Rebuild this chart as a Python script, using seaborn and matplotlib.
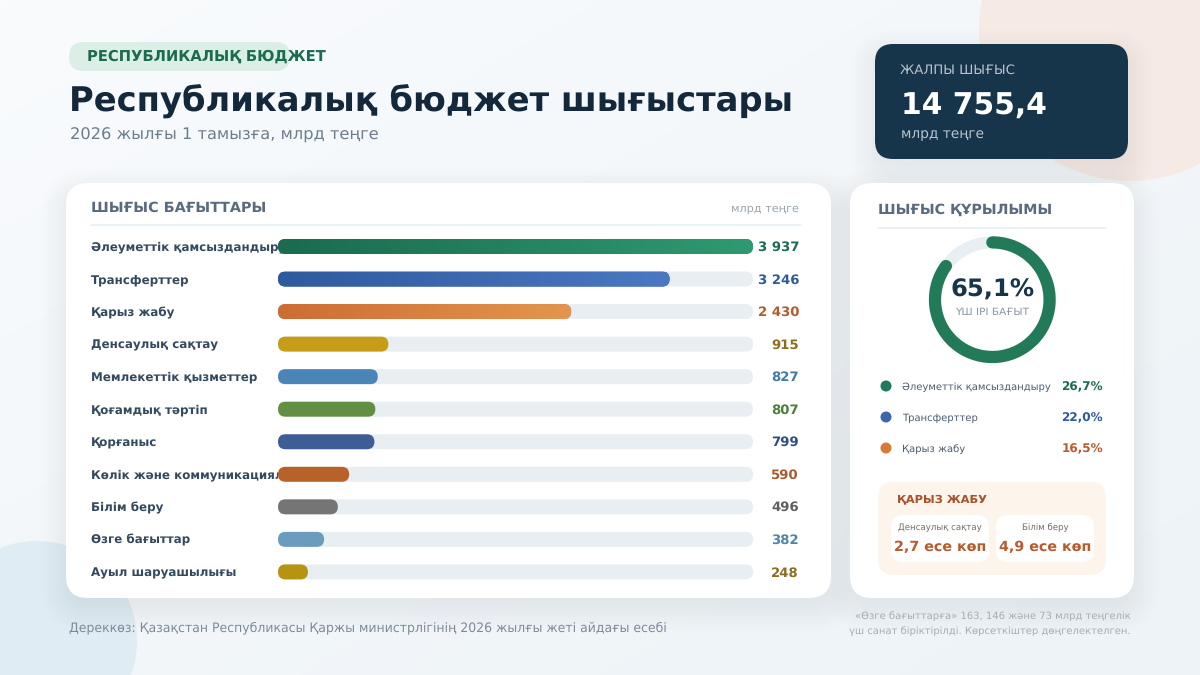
import numpy as np
import pandas as pd
import seaborn as sns
import matplotlib.pyplot as plt
from matplotlib.colors import LinearSegmentedColormap
from matplotlib.patches import Arc, Circle, FancyBboxPatch

categories = ['Әлеуметтік қамсыздандыру', 'Трансферттер', 'Қарыз жабу', 'Денсаулық сақтау',
              'Мемлекеттік қызметтер', 'Қоғамдық тәртіп', 'Қорғаныс', 'Көлік және коммуникациялар',
              'Білім беру', 'Өзге бағыттар', 'Ауыл шаруашылығы']
values = [3937, 3246, 2430, 915, 827, 807, 799, 590, 496, 382, 248]
value_labels = ['3 937', '3 246', '2 430', '915', '827', '807', '799', '590', '496', '382', '248']
bar_colors = ['#1a6b4f', '#2f5a9e', '#cc6d33', '#c79d17', '#4b85b8', '#629042',
              '#3e5c96', '#b86129', '#757575', '#6b9cbd', '#b69412']
value_colors = ['#1a6b4f', '#2f5a9e', '#b85a2b', '#8c6f1e', '#3f79a8', '#4f7d3a',
                '#2f4a85', '#a85a30', '#5f5f5f', '#4f84a8', '#8c6f1e']
gradient_ends = ['#2f9a72', '#4a78c2', '#e3964f']

legend_names = ['Әлеуметтік қамсыздандыру', 'Трансферттер', 'Қарыз жабу']
legend_shares = ['26,7%', '22,0%', '16,5%']
legend_colors = ['#1f7a58', '#3a68ae', '#d97a38']
legend_text_colors = ['#1a6b4f', '#2f5a9e', '#b85a2b']
ring_fill = 0.85  # as drawn in the picture, the ring runs further than its 65,1% label

sns.set_theme(style='white')
plt.rcParams['font.family'] = ['DejaVu Sans']
plt.rcParams['text.hinting'] = 'no_hinting'

fig = plt.figure(figsize=(12, 6.75), dpi=100)

# pixel canvas for everything except the bars
bg = fig.add_axes([0, 0, 1, 1], zorder=0)
bg.set_xlim(0, 1200)
bg.set_ylim(675, 0)
bg.axis('off')


def txt(x, y, s, px, color, weight='normal', ha='left', z=8):
    bg.text(x, y, s, fontsize=px * 0.72, color=color, fontweight=weight, ha=ha, va='center', zorder=z)


def box(x0, y0, x1, y1, r, color, z=2, axes=bg, **kw):
    p = FancyBboxPatch((x0 + r, y0 + r), x1 - x0 - 2 * r, y1 - y0 - 2 * r,
                       boxstyle=f'round,pad={r},rounding_size={r}', fc=color, ec='none',
                       zorder=z, transform=axes.transData, **kw)
    return p


def card(x0, y0, x1, y1, r, color):
    # soft shadow from stacked translucent boxes
    for i in range(14):
        pad = i * 2.2 - 4
        bg.add_patch(box(x0 - pad, y0 + 10 - pad, x1 + pad, y1 + 10 + pad, r + max(pad, 0), '#2a4a6b', z=1.5, alpha=0.0042))
    bg.add_patch(box(x0, y0, x1, y1, r, color))


grad = np.linspace(0, 1, 200)[None, :] * 0.5 + np.linspace(0, 1, 200)[:, None] * 0.5
bg.imshow(grad, extent=(0, 1200, 675, 0), aspect='auto', zorder=0,
          cmap=LinearSegmentedColormap.from_list('page', ['#f9fbfd', '#edf3f7']))
bg.set_xlim(0, 1200)
bg.set_ylim(675, 0)
bg.add_patch(Circle((1130, 30), 151, fc='#f5ebe4', ec='none', zorder=1))
bg.add_patch(Circle((37, 641), 100, fc='#e0ecf3', ec='none', zorder=1))

card(66, 183, 831, 598, 22, 'white')
card(850, 183, 1134, 598, 22, 'white')
card(875, 44, 1128, 159, 18, '#16344a')

# header
bg.add_patch(box(69, 42, 290, 71, 14.5, '#dcefe6'))
txt(87, 56.5, 'РЕСПУБЛИКАЛЫҚ БЮДЖЕТ', 14.8, '#1a6b4f', 'bold')
txt(69, 101.5, 'Республикалық бюджет шығыстары', 33.8, '#14283c', 'bold')
txt(70, 135, '2026 жылғы 1 тамызға, млрд теңге', 16.3, '#6c7d8e')

txt(900, 70.5, 'ЖАЛПЫ ШЫҒЫС', 13.3, '#b8c4cd')
txt(901, 106.5, '14 755,4', 29.7, 'white', 'bold')
txt(901, 134.5, 'млрд теңге', 13.7, '#b8c4cd')

# left card
txt(91, 208, 'ШЫҒЫС БАҒЫТТАРЫ', 14.4, '#5a6b7f', 'bold')
txt(799, 208.5, 'млрд теңге', 11.2, '#98a4b0', ha='right')
bg.plot([91, 801], [224.5, 224.5], color='#e6edf2', lw=1.1, zorder=3)

df = pd.DataFrame({'category': categories, 'value': values})
ax = fig.add_axes([278 / 1200, 1 - 588.2 / 675, 475 / 1200, 358 / 675], zorder=1)
sns.barplot(data=df, x='value', y='category', hue='category', palette=bar_colors,
            legend=False, width=0.46, saturation=1, ax=ax)
ax.set_xlim(0, max(values))
ax.axis('off')

# top layer, holds the rounded shapes of the bars
top = fig.add_axes([0, 0, 1, 1], zorder=2)
top.set_xlim(0, 1200)
top.set_ylim(675, 0)
top.axis('off')
top.patch.set_alpha(0)

to_px = ax.transData + bg.transData.inverted()
for i, bar in enumerate(ax.patches):
    (x0, y0), (x1, y1) = to_px.transform([(bar.get_x(), bar.get_y()),
                                          (bar.get_x() + bar.get_width(), bar.get_y() + bar.get_height())])
    h = abs(y1 - y0)
    y_min = min(y0, y1)
    # track behind the bar, up to the end of the scale
    track_end = to_px.transform((max(values), 0))[0]
    bg.add_patch(box(x0, y_min, track_end, y_min + h, h / 2, '#e8eef2', z=5))
    rounded = box(x0, y_min, x1, y_min + h, h / 2, bar_colors[i], axes=top)
    top.add_patch(rounded)
    bar.set_visible(False)
    if i < len(gradient_ends):
        cmap = LinearSegmentedColormap.from_list(f'bar{i}', [bar_colors[i], gradient_ends[i]])
        im = top.imshow(np.linspace(0, 1, 256)[None, :], extent=(x0, x1, y_min + h, y_min),
                        aspect='auto', cmap=cmap, zorder=3)
        im.set_clip_path(rounded)
    y_mid = y_min + h / 2
    txt(91, y_mid + 1, categories[i], 11.9, '#34495e', 'bold', z=3)
    txt(799, y_mid + 0.8, value_labels[i], 13.2, value_colors[i], 'bold', ha='right')
top.set_xlim(0, 1200)
top.set_ylim(675, 0)

# right card
txt(878, 210, 'ШЫҒЫС ҚҰРЫЛЫМЫ', 14.3, '#5a6b7f', 'bold')
bg.plot([878, 1106], [228, 228], color='#e6edf2', lw=1.1, zorder=3)
bg.add_patch(Circle((992.3, 299.7), 57.3, fc='none', ec='#e8eef2', lw=8.6, zorder=4))
bg.add_patch(Arc((992.3, 299.7), 114.6, 114.6, theta1=-90, theta2=-90 + 360 * ring_fill,
                 ec='#237a58', lw=8.8, capstyle='round', zorder=5))
txt(992.5, 289.5, '65,1%', 24.3, '#16344a', 'bold', ha='center')
txt(992.5, 312.5, 'ҮШ ІРІ БАҒЫТ', 10.5, '#8a97a5', ha='center')

for i, y in enumerate([386, 417, 448]):
    bg.add_patch(Circle((886, y), 5.5, fc=legend_colors[i], ec='none', zorder=5))
    txt(902.5, y + 1, legend_names[i], 10.0, '#4a5c6e')
    txt(1103, y + 1, legend_shares[i], 12, legend_text_colors[i], 'bold', ha='right')

bg.add_patch(box(878, 482, 1106, 575, 16, '#fdf4ec', z=3))
txt(897, 499.5, 'ҚАРЫЗ ЖАБУ', 11.4, '#a8522a', 'bold')
bg.add_patch(box(891, 515, 989, 562, 12, 'white', z=4))
bg.add_patch(box(996, 515, 1094, 562, 12, 'white', z=4))
txt(940, 528, 'Денсаулық сақтау', 8.7, '#7a6a60', ha='center')
txt(1045, 528, 'Білім беру', 8.7, '#7a6a60', ha='center')
txt(940, 547, '2,7 есе көп', 14.3, '#b85a2b', 'bold', ha='center')
txt(1045, 547, '4,9 есе көп', 14.3, '#b85a2b', 'bold', ha='center')

# footer
txt(69, 627.5, 'Дереккөз: Қазақстан Республикасы Қаржы министрлігінің 2026 жылғы жеті айдағы есебі', 12.55, '#7d8b99')
txt(1131, 616.5, '«Өзге бағыттарға» 163, 146 және 73 млрд теңгелік', 10.0, '#a3aeb9', ha='right')
txt(1131, 631.5, 'үш санат біріктірілді. Көрсеткіштер дөңгелектелген.', 10.0, '#a3aeb9', ha='right')

plt.savefig('out.png', dpi=100)
